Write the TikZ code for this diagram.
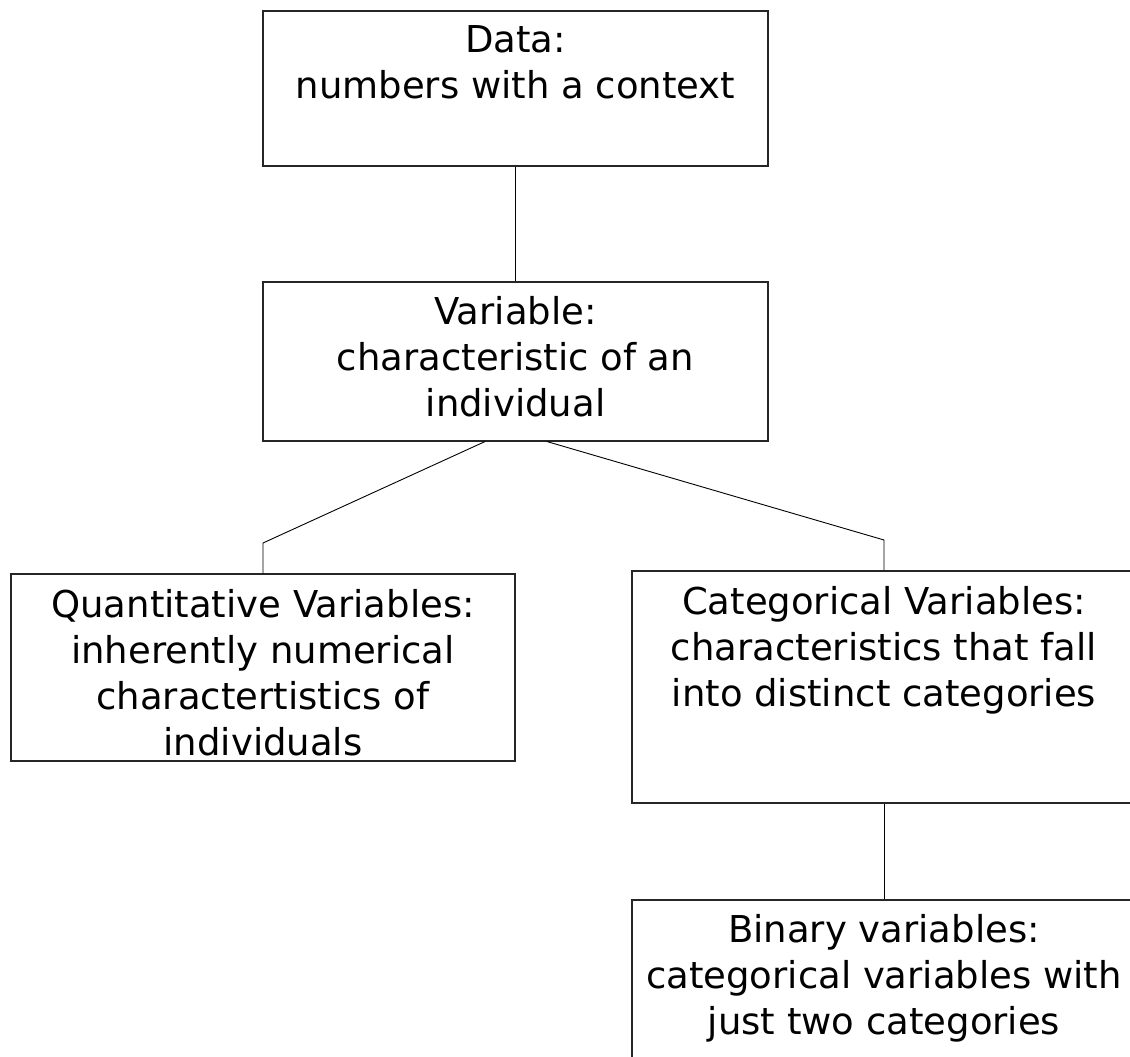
\documentclass[tikz,border=0pt]{standalone}
\usepackage{fontspec}
\setmainfont{DejaVu Sans}
\begin{document}
\begin{tikzpicture}[x=1pt,y=-1pt,
  box/.style={draw=black!85, line width=1.1pt, rectangle, inner sep=0pt, fill=white},
  label/.style={anchor=north, inner sep=0pt, align=center, font={\fontsize{37}{46}\selectfont}},
  link/.style={draw=black, line width=0.9pt}]
\clip (0,0) rectangle (1130,1057);
\fill[white] (0,0) rectangle (1130,1057);
% boxes
\node[box, minimum width=505pt, minimum height=155pt] (b1) at (515.5,88.5) {};
\node[box, minimum width=505pt, minimum height=159pt] (b2) at (515.5,361.5) {};
\node[box, minimum width=504pt, minimum height=187pt] (b3) at (263,667.5) {};
\node[box, minimum width=504pt, minimum height=232pt] (b4) at (884,687) {};
\node[box, minimum width=504pt, minimum height=190pt] (b5) at (884,995) {};
% texts
\node[label] (t1) at ([yshift=-15pt]b1.north) {Data:\\numbers with a context};
\node[label] (t2) at ([yshift=-15pt]b2.north) {Variable:\\characteristic of an\\individual};
\node[label] (t3) at ([yshift=-16pt]b3.north) {Quantitative Variables:\\inherently numerical\\charactertistics of\\individuals};
\node[label] (t4) at ([yshift=-16pt]b4.north) {Categorical Variables:\\characteristics that fall\\into distinct categories};
\node[label] (t5) at ([yshift=-15pt]b5.north) {Binary variables:\\categorical variables with\\just two categories};
% connectors
\coordinate (cl) at (263,543);
\coordinate (cr) at (884,540);
\draw[link] (b1.south) -- (b2.north);
\draw[link] ([xshift=-30.5pt]b2.south) -- (cl) -- (b3.north);
\draw[link] ([xshift=31.5pt]b2.south) -- (cr) -- (b4.north);
\draw[link] (b4.south) -- (b5.north);
\end{tikzpicture}
\end{document}
